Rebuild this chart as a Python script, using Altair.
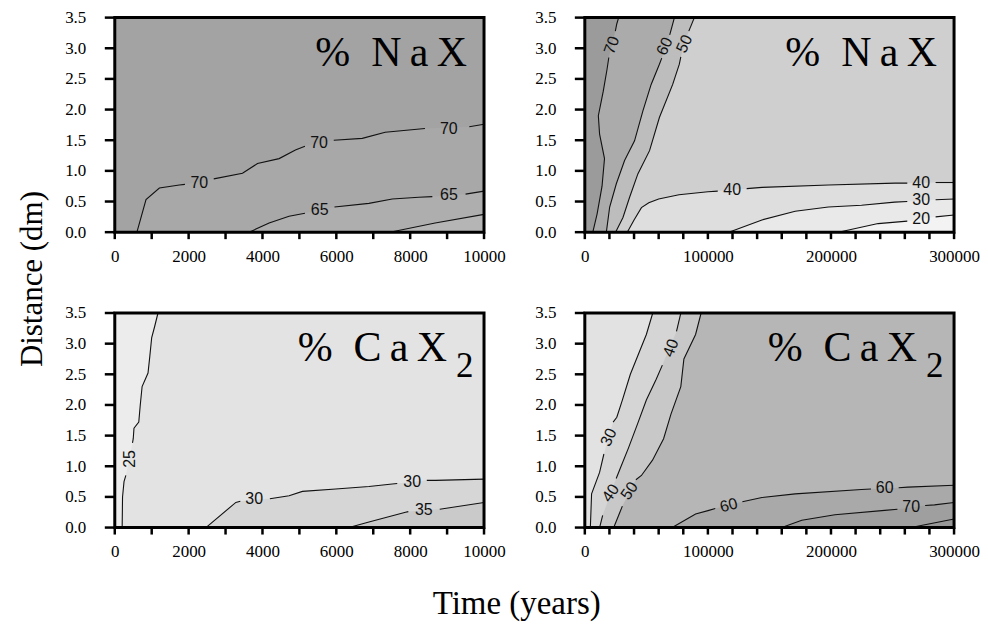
import altair as alt
import pandas as pd

# ---------------- ticks ----------------
Y_TICKS = [0.0, 0.5, 1.0, 1.5, 2.0, 2.5, 3.0, 3.5]
X_TICKS_SHORT = [0, 1000, 2000, 3000, 4000, 5000, 6000, 7000, 8000, 9000, 10000]
X_TICKS_LONG = [0, 20000, 40000, 60000, 80000, 100000, 120000, 140000, 160000, 180000,
                200000, 220000, 240000, 260000, 280000, 300000]

# ---------------- top-left: % NaX, 0-10000 yr ----------------
TL_70_X = [600, 846, 1208, 1749, 1900, 2680, 3459, 3865, 4451, 4892, 5150, 5930, 6703, 7324, 8400, 9600, 10000]
TL_70_Y = [0.0, 0.53, 0.72, 0.77, 0.78, 0.87, 0.96, 1.12, 1.20, 1.34, 1.40, 1.50, 1.53, 1.63, 1.69, 1.72, 1.76]
TL_70_S = [0, 0, 0, 0, 0, 1, 1, 1, 1, 1, 1, 2, 2, 2, 2, 3, 3]
TL_65_X = [3640, 4180, 4720, 5150, 5950, 6883, 7514, 8234, 8600, 9500, 10000]
TL_65_Y = [0.0, 0.15, 0.26, 0.31, 0.41, 0.47, 0.54, 0.57, 0.58, 0.62, 0.67]
TL_65_S = [0, 0, 0, 0, 1, 1, 1, 1, 1, 2, 2]
TL_60_X = [7450, 8676, 10000]
TL_60_Y = [0.0, 0.15, 0.29]
TL_60_S = [0, 0, 0]
TL_LAB_X = [2289, 5532, 9046, 5550, 9050]
TL_LAB_Y = [0.81, 1.46, 1.69, 0.36, 0.60]
TL_LAB_T = ["70", "70", "70", "65", "65"]
TL_LAB_A = [0, 0, 0, 0, 0]

# ---------------- top-right: % NaX, 0-300000 yr ----------------
TR_70_X = [6500, 10000, 14000, 16000, 12000, 11000, 15000, 18000, 19500, 24800, 26000, 27500]
TR_70_Y = [0.0, 0.30, 0.75, 1.20, 1.60, 1.90, 2.30, 2.65, 2.85, 3.28, 3.40, 3.50]
TR_70_S = [0, 0, 0, 0, 0, 0, 0, 0, 0, 1, 1, 1]
TR_60_X = [17500, 20200, 25600, 32300, 40400, 47200, 53900, 60600, 62500, 69000, 72800]
TR_60_Y = [0.0, 0.41, 0.79, 1.17, 1.49, 1.98, 2.41, 2.74, 2.84, 3.22, 3.50]
TR_60_S = [0, 0, 0, 0, 0, 0, 0, 0, 0, 1, 1]
TR_50_X = [25000, 31000, 36400, 43100, 52600, 60600, 71400, 76800, 78000, 84500, 89000]
TR_50_Y = [0.0, 0.24, 0.57, 0.95, 1.33, 1.87, 2.41, 2.74, 2.86, 3.28, 3.50]
TR_50_S = [0, 0, 0, 0, 0, 0, 0, 0, 0, 1, 1]
TR_40_X = [34500, 40000, 46000, 52000, 60000, 76500, 100000, 108000, 131500, 144000, 198000, 252000, 262000, 285000, 300000]
TR_40_Y = [0.0, 0.20, 0.40, 0.48, 0.54, 0.61, 0.66, 0.67, 0.71, 0.73, 0.77, 0.80, 0.80, 0.81, 0.81]
TR_40_S = [0, 0, 0, 0, 0, 0, 0, 0, 1, 1, 1, 1, 1, 2, 2]
TR_30_X = [117000, 143900, 170900, 197900, 224800, 251700, 262000, 285000, 300000]
TR_30_Y = [0.0, 0.20, 0.34, 0.41, 0.44, 0.49, 0.50, 0.53, 0.54]
TR_30_S = [0, 0, 0, 0, 0, 0, 0, 1, 1]
TR_20_X = [206000, 238300, 262000, 285000, 300000]
TR_20_Y = [0.0, 0.14, 0.18, 0.25, 0.28]
TR_20_S = [0, 0, 0, 1, 1]
TR_LAB_X = [22000, 65000, 81000, 119700, 273300, 273300, 273300]
TR_LAB_Y = [3.05, 3.03, 3.07, 0.69, 0.80, 0.52, 0.21]
TR_LAB_T = ["70", "60", "50", "40", "40", "30", "20"]
TR_LAB_A = [290, 295, 295, 0, 0, 0, 0]

# ---------------- bottom-left: % CaX2, 0-10000 yr ----------------
BL_25_X = [200, 210, 250, 300, 480, 500, 520, 650, 690, 740, 900, 950, 1000, 1080, 1170]
BL_25_Y = [0.0, 0.50, 0.75, 0.85, 1.38, 1.45, 1.62, 1.72, 2.00, 2.30, 2.52, 2.80, 3.10, 3.28, 3.50]
BL_25_S = [0, 0, 0, 0, 1, 1, 1, 1, 1, 1, 1, 1, 1, 1, 1]
BL_30_X = [2468, 3279, 3400, 4200, 4721, 5081, 5982, 6883, 7514, 7650, 8450, 8684, 10000]
BL_30_Y = [0.0, 0.41, 0.43, 0.47, 0.52, 0.59, 0.63, 0.67, 0.71, 0.72, 0.77, 0.77, 0.79]
BL_30_S = [0, 0, 0, 1, 1, 1, 1, 1, 1, 1, 2, 2, 2]
BL_35_X = [6342, 6883, 7874, 7950, 8800, 10000]
BL_35_Y = [0.0, 0.09, 0.25, 0.26, 0.30, 0.41]
BL_35_S = [0, 0, 0, 0, 1, 1]
BL_LAB_X = [420, 3775, 8054, 8370]
BL_LAB_Y = [1.12, 0.46, 0.75, 0.28]
BL_LAB_T = ["25", "30", "30", "35"]
BL_LAB_A = [270, 0, 0, 0]

# ---------------- bottom-right: % CaX2, 0-300000 yr ----------------
BR_30_X = [4500, 5500, 12000, 15500, 23000, 26000, 30500, 37000, 45000, 50000, 55200]
BR_30_Y = [0.0, 0.55, 0.90, 1.20, 1.72, 1.80, 2.08, 2.50, 2.90, 3.15, 3.50]
BR_30_S = [0, 0, 0, 0, 1, 1, 1, 1, 1, 1, 1]
BR_40_X = [12000, 14500, 25500, 28500, 35500, 43000, 50000, 58000, 63000, 74500, 78000]
BR_40_Y = [0.0, 0.20, 0.80, 0.95, 1.30, 1.70, 2.08, 2.42, 2.65, 3.20, 3.50]
BR_40_S = [0, 0, 1, 1, 1, 1, 1, 1, 1, 2, 2]
BR_50_X = [23500, 28500, 30500, 41500, 46000, 55000, 64000, 70000, 78000, 80500, 90000, 94500]
BR_50_Y = [0.0, 0.25, 0.35, 0.78, 0.85, 1.10, 1.45, 1.85, 2.30, 2.75, 3.15, 3.50]
BR_50_S = [0, 0, 0, 1, 1, 1, 1, 1, 1, 1, 1, 1]
BR_60_X = [71000, 90000, 100800, 106000, 128000, 143900, 170900, 224800, 232500, 255000, 262500, 300000]
BR_60_Y = [0.0, 0.22, 0.28, 0.31, 0.42, 0.49, 0.55, 0.62, 0.63, 0.65, 0.66, 0.69]
BR_60_S = [0, 0, 0, 0, 1, 1, 1, 1, 1, 2, 2, 2]
BR_70_X = [160000, 176300, 203200, 243600, 254000, 276500, 284100, 300000]
BR_70_Y = [0.0, 0.12, 0.21, 0.28, 0.30, 0.36, 0.37, 0.41]
BR_70_S = [0, 0, 0, 0, 0, 1, 1, 1]
BR_80_X = [265000, 300000]
BR_80_Y = [0.0, 0.14]
BR_80_S = [0, 0]
BR_LAB_X = [19500, 21000, 36300, 70000, 117000, 243600, 265200]
BR_LAB_Y = [1.47, 0.56, 0.60, 2.93, 0.36, 0.64, 0.33]
BR_LAB_T = ["30", "40", "50", "40", "60", "60", "70"]
BR_LAB_A = [295, 305, 305, 290, 345, 0, 0]

SERIF = "Liberation Serif"
SANS = "Liberation Sans"
PW, PH = 370, 215


def line_df(name, xs, ys, ss):
    return pd.DataFrame({
        "x": xs, "y": ys,
        "seg": [f"{name}-{s}" for s in ss],
        "i": list(range(len(xs))),
        "x0": [0.0] * len(xs), "y0": [0.0] * len(xs),
    })


def panel(xmax, xticks, major, lines, bands, base_color, labels, title, sub):
    xs = alt.Scale(domain=[0, xmax], nice=False, zero=False)
    ys = alt.Scale(domain=[0, 3.5], nice=False, zero=False)
    xax = alt.Axis(values=xticks, labelExpr=f"datum.value % {major} === 0 ? datum.value : ''",
                   title=None, ticks=False, labelPadding=16,
                   labelFlush=False, labelOverlap=False)
    yax = alt.Axis(values=Y_TICKS, format=".1f", title=None, ticks=False, labelPadding=29)
    X = alt.X("x:Q", scale=xs, axis=xax)
    Y = alt.Y("y:Q", scale=ys, axis=yax)
    frame = pd.DataFrame({"x": [0], "x2": [xmax], "y": [0.0], "y2": [3.5]})

    layers = [alt.Chart(frame).mark_rect(color=base_color).encode(x=X, x2="x2:Q", y=Y, y2="y2:Q")]
    for key, kind, color in bands:
        d = line_df(key, *lines[key])
        if kind == "left":
            layers.append(alt.Chart(d).mark_area(color=color, orient="horizontal")
                          .encode(y=Y, x=X, x2="x0:Q"))
        else:
            layers.append(alt.Chart(d).mark_area(color=color, orient="vertical")
                          .encode(x=X, y=Y, y2="y0:Q"))
    all_lines = pd.concat([line_df(k, *v) for k, v in lines.items()], ignore_index=True)
    layers.append(alt.Chart(all_lines).mark_line(color="#111111", strokeWidth=1.1)
                  .encode(x=X, y=Y, detail="seg:N", order="i:Q"))
    lx, ly, lt, la = labels
    ld = pd.DataFrame({"x": lx, "y": ly, "t": lt, "a": la})
    layers.append(alt.Chart(ld).mark_text(font=SANS, fontSize=16, color="#111111",
                                          align="center", baseline="middle")
                  .encode(x=X, y=Y, text="t:N", angle=alt.Angle("a:Q", scale=None)))
    tx = 353 if not sub else 333
    layers.append(alt.Chart(pd.DataFrame({"t": [title]}))
                  .mark_text(font=SERIF, fontSize=42, align="right", baseline="alphabetic", color="black")
                  .encode(text="t:N", x=alt.value(tx), y=alt.value(48)))
    if sub:
        layers.append(alt.Chart(pd.DataFrame({"t": [sub]}))
                      .mark_text(font=SERIF, fontSize=35, align="left", baseline="alphabetic", color="black")
                      .encode(text="t:N", x=alt.value(342), y=alt.value(64)))
    layers.append(alt.Chart(frame).mark_rect(filled=False, stroke="black", strokeWidth=3)
                  .encode(x=X, x2="x2:Q", y=Y, y2="y2:Q"))
    # outward tick marks, drawn from the tick arrays through the scales
    layers.append(alt.Chart(pd.DataFrame({"y": Y_TICKS}))
                  .mark_tick(orient="horizontal", color="black", size=10, thickness=2.5, opacity=1)
                  .encode(y=Y, x=alt.value(-5)))
    layers.append(alt.Chart(pd.DataFrame({"x": xticks}))
                  .mark_tick(orient="vertical", color="black", size=7, thickness=2.5, opacity=1)
                  .encode(x=X, y=alt.value(PH + 3.5)))
    return alt.layer(*layers).properties(width=PW, height=PH)


NAX = "%\u2002N\u2009a\u2009X"
CAX = "%\u2002C\u2009a\u2009X"

tl = panel(10000, X_TICKS_SHORT, 2000,
           {"TL70": (TL_70_X, TL_70_Y, TL_70_S), "TL65": (TL_65_X, TL_65_Y, TL_65_S),
            "TL60": (TL_60_X, TL_60_Y, TL_60_S)},
           [("TL70", "below", "#a8a8a8"), ("TL65", "below", "#aeaeae"), ("TL60", "below", "#b5b5b5")],
           "#a3a3a3", (TL_LAB_X, TL_LAB_Y, TL_LAB_T, TL_LAB_A), NAX, None)

tr = panel(300000, X_TICKS_LONG, 100000,
           {"TR70": (TR_70_X, TR_70_Y, TR_70_S), "TR60": (TR_60_X, TR_60_Y, TR_60_S),
            "TR50": (TR_50_X, TR_50_Y, TR_50_S), "TR40": (TR_40_X, TR_40_Y, TR_40_S),
            "TR30": (TR_30_X, TR_30_Y, TR_30_S), "TR20": (TR_20_X, TR_20_Y, TR_20_S)},
           [("TR50", "left", "#bdbdbd"), ("TR60", "left", "#ababab"), ("TR70", "left", "#9b9b9b"),
            ("TR40", "below", "#dedede"), ("TR30", "below", "#e9e9e9"), ("TR20", "below", "#f3f3f3")],
           "#cfcfcf", (TR_LAB_X, TR_LAB_Y, TR_LAB_T, TR_LAB_A), NAX, None)

bl = panel(10000, X_TICKS_SHORT, 2000,
           {"BL25": (BL_25_X, BL_25_Y, BL_25_S), "BL30": (BL_30_X, BL_30_Y, BL_30_S),
            "BL35": (BL_35_X, BL_35_Y, BL_35_S)},
           [("BL25", "left", "#ececec"), ("BL30", "below", "#d6d6d6"), ("BL35", "below", "#cacaca")],
           "#e3e3e3", (BL_LAB_X, BL_LAB_Y, BL_LAB_T, BL_LAB_A), CAX, "2")

br = panel(300000, X_TICKS_LONG, 100000,
           {"BR30": (BR_30_X, BR_30_Y, BR_30_S), "BR40": (BR_40_X, BR_40_Y, BR_40_S),
            "BR50": (BR_50_X, BR_50_Y, BR_50_S), "BR60": (BR_60_X, BR_60_Y, BR_60_S),
            "BR70": (BR_70_X, BR_70_Y, BR_70_S), "BR80": (BR_80_X, BR_80_Y, BR_80_S)},
           [("BR50", "left", "#c8c8c8"), ("BR40", "left", "#d5d5d5"), ("BR30", "left", "#e2e2e2"),
            ("BR60", "below", "#a9a9a9"), ("BR70", "below", "#9f9f9f"), ("BR80", "below", "#979797")],
           "#b6b6b6", (BR_LAB_X, BR_LAB_Y, BR_LAB_T, BR_LAB_A), CAX, "2")

ytitle = (alt.Chart(pd.DataFrame({"t": ["Distance (dm)"]}))
          .mark_text(font=SERIF, fontSize=31, angle=270, align="center", baseline="middle", color="black")
          .encode(text="t:N", x=alt.value(25), y=alt.value(262))
          .properties(width=38, height=520, view=alt.ViewBackground(strokeOpacity=0)))

grid = alt.vconcat(alt.hconcat(tl, tr, spacing=28), alt.hconcat(bl, br, spacing=28), spacing=40)

chart = (alt.hconcat(ytitle, grid, spacing=16)
         .properties(background="white", padding=0,
                     title=alt.TitleParams("Time (years)", orient="bottom", font=SERIF, fontSize=33,
                                           fontWeight="normal", offset=29, dx=23, anchor="middle",
                                           color="black"))
         .configure_view(strokeOpacity=0)
         .configure_axis(labelFont=SERIF, labelFontSize=17, labelColor="black",
                         domain=False, grid=False))

chart.save("out.html", embed_options={"renderer": "svg", "actions": False})
